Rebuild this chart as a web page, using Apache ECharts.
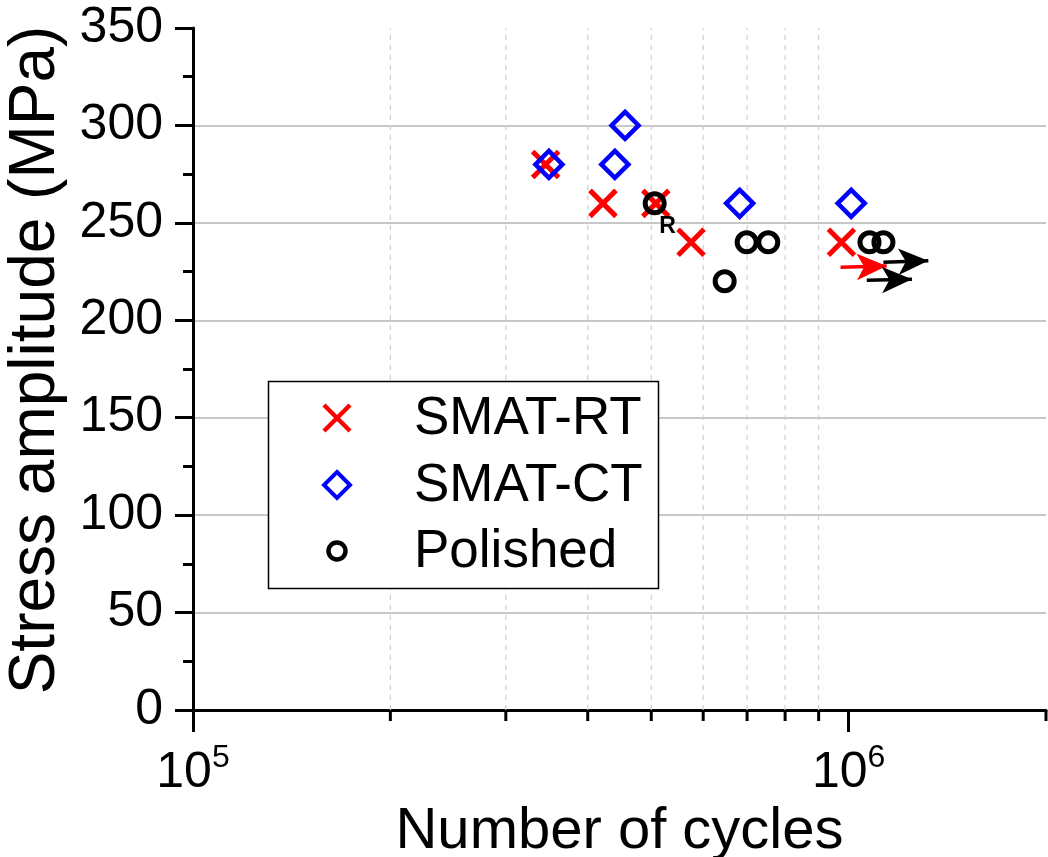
<!DOCTYPE html>
<html>
<head>
<meta charset="utf-8">
<script src="https://cdn.jsdelivr.net/npm/echarts@6/dist/echarts.min.js"></script>
<style>html,body{margin:0;padding:0;background:#fff;}#c{width:1048px;height:857px;}</style>
</head>
<body>
<div id="c"></div>
<script>
// ---- data ----
const seriesNames = ['SMAT-RT', 'SMAT-CT', 'Polished'];
const smatRT = [[3.45e5, 280], [4.22e5, 260], [5.08e5, 260], [5.75e5, 240], [9.75e5, 240]];
const smatCT = [[3.49e5, 280], [4.40e5, 280], [4.56e5, 300], [6.82e5, 260], [1.009e6, 260]];
const polished = [[5.06e5, 260], [6.47e5, 220], [6.99e5, 240], [7.54e5, 240], [1.076e6, 240], [1.13e6, 240]];
// run-out arrows [x1, y1, x2, y2]
const rtArrows = [[9.72e5, 227.2, 1.143e6, 227.8]];
const polishedArrows = [[1.130e6, 229.8, 1.323e6, 230.5], [1.066e6, 220.5, 1.249e6, 221.0]];
const minorXTicks = [2e5, 3e5, 4e5, 5e5, 6e5, 7e5, 8e5, 9e5, 2e6];
const yTicks = [0, 50, 100, 150, 200, 250, 300, 350];

const FONT = "'Liberation Sans', Arial, sans-serif";
const chart = echarts.init(document.getElementById('c'), null, {renderer: 'canvas'});

function arrowLines(arr) {
  return arr.map(a => [{coord: [a[0], a[1]]}, {coord: [a[2], a[3]]}]);
}

const GL = 193, GR = 2, GT = 28, GB = 147;

const option = {
  animation: false,
  backgroundColor: '#fff',
  grid: {left: GL, right: GR, top: GT, bottom: GB, containLabel: false, outerBoundsMode: 'none'},
  xAxis: {
    type: 'log', logBase: 10, min: 1e5, max: 2e6,
    axisLine: {show: true, lineStyle: {color: '#000', width: 3}},
    axisTick: {show: true, length: 22, lineStyle: {color: '#000', width: 3}, customValues: [1e5, 1e6]},
    axisLabel: {
      margin: 32, color: '#000', fontFamily: FONT, customValues: [1e5, 1e6],
      formatter: function (v) {
        const e = Math.round(Math.log10(v));
        if (Math.abs(Math.pow(10, e) - v) / v > 1e-6) return '';
        return '{b|10}{s|' + e + '}';
      },
      rich: {
        b: {fontSize: 50, fontFamily: FONT, color: '#000', lineHeight: 56, verticalAlign: 'bottom'},
        s: {fontSize: 32, fontFamily: FONT, color: '#000', lineHeight: 56, verticalAlign: 'top'}
      }
    },
    splitLine: {show: true, showMinLine: false, showMaxLine: false, lineStyle: {color: '#c8c8c8', width: 2}},
    name: 'Number of cycles', nameLocation: 'middle', nameGap: 92,
    nameTextStyle: {fontSize: 58, fontFamily: FONT, color: '#000'}
  },
  yAxis: {
    type: 'value', min: 0, max: 350, interval: 50,
    axisLine: {show: true, lineStyle: {color: '#000', width: 3}},
    axisTick: {show: true, length: 18, lineStyle: {color: '#000', width: 3}},
    minorTick: {show: true, splitNumber: 2, length: 10, lineStyle: {color: '#000', width: 3}},
    axisLabel: {margin: 30, fontSize: 50, fontFamily: FONT, color: '#000'},
    splitLine: {show: true, showMinLine: false, showMaxLine: false, lineStyle: {color: '#c8c8c8', width: 2}},
    name: 'Stress amplitude (MPa)', nameLocation: 'middle', nameGap: 124,
    nameTextStyle: {fontSize: 64, fontFamily: FONT, color: '#000', padding: [0, 0, 0, 18]}
  },
  series: [
    {
      type: 'custom', name: 'minor', silent: true, clip: false, z: 1,
      data: minorXTicks.map(v => [v, 0]),
      encode: {x: 0, y: 1},
      renderItem: function (params, api) {
        const v = api.value(0);
        const p0 = api.coord([v, 0]);
        const p1 = api.coord([v, 350]);
        const children = [{
          type: 'line', shape: {x1: p0[0], y1: p0[1], x2: p0[0], y2: p0[1] + 11},
          style: {stroke: '#000', lineWidth: 3}
        }];
        if (v < 1e6) {
          children.push({
            type: 'line', shape: {x1: p0[0], y1: p0[1], x2: p1[0], y2: p1[1]},
            style: {stroke: '#d0d0d0', lineWidth: 1.2, lineDash: [5, 5]}
          });
        }
        return {type: 'group', children: children};
      }
    },
    {
      type: 'scatter', name: seriesNames[0], z: 3,
      data: smatRT,
      symbol: 'path://M0,0L10,10M10,0L0,10', symbolSize: 26,
      itemStyle: {color: 'rgba(0,0,0,0)', borderColor: '#ff0000', borderWidth: 5, opacity: 1},
      emphasis: {disabled: true},
      markLine: {
        silent: true, symbol: ['none', 'arrow'], symbolSize: [20, 30],
        label: {show: false},
        lineStyle: {color: '#ff0000', width: 3.5, type: 'solid', opacity: 1},
        data: arrowLines(rtArrows)
      }
    },
    {
      type: 'scatter', name: seriesNames[1], z: 4,
      data: smatCT,
      symbol: 'diamond', symbolSize: 27,
      itemStyle: {color: 'rgba(0,0,0,0)', borderColor: '#0000ff', borderWidth: 4.5, opacity: 1},
      emphasis: {disabled: true}
    },
    {
      type: 'scatter', name: seriesNames[2], z: 5,
      data: polished.map((p, i) => i === 0 ? {
        value: p,
        label: {show: true, formatter: 'R', position: 'inside', offset: [13, 23],
          fontSize: 23, fontWeight: 'bold', fontFamily: FONT, color: '#000'}
      } : p),
      symbol: 'circle', symbolSize: 19,
      itemStyle: {color: 'rgba(0,0,0,0)', borderColor: '#000', borderWidth: 5, opacity: 1},
      emphasis: {disabled: true},
      markLine: {
        silent: true, symbol: ['none', 'arrow'], symbolSize: [20, 30],
        label: {show: false},
        lineStyle: {color: '#000', width: 3.5, type: 'solid', opacity: 1},
        data: arrowLines(polishedArrows)
      }
    }
  ],
  graphic: [
    {type: 'rect', z: 50, shape: {x: 268.5, y: 381.5, width: 390, height: 207},
      style: {fill: '#fff', stroke: '#000', lineWidth: 1.5}},
    {type: 'line', z: 51, shape: {x1: 324, y1: 405, x2: 350, y2: 431},
      style: {stroke: '#ff0000', lineWidth: 4.5}},
    {type: 'line', z: 51, shape: {x1: 350, y1: 405, x2: 324, y2: 431},
      style: {stroke: '#ff0000', lineWidth: 4.5}},
    {type: 'polygon', z: 51, shape: {points: [[337, 472], [350, 485], [337, 498], [324, 485]]},
      style: {fill: 'none', stroke: '#0000ff', lineWidth: 4}},
    {type: 'circle', z: 51, shape: {cx: 337, cy: 551, r: 8.5},
      style: {fill: 'none', stroke: '#000', lineWidth: 4.5}},
    {type: 'text', z: 51, x: 414, y: 419, style: {text: seriesNames[0], font: '53px ' + FONT, fill: '#000', verticalAlign: 'middle'}},
    {type: 'text', z: 51, x: 414, y: 486, style: {text: seriesNames[1], font: '53px ' + FONT, fill: '#000', verticalAlign: 'middle'}},
    {type: 'text', z: 51, x: 414, y: 552, style: {text: seriesNames[2], font: '53px ' + FONT, fill: '#000', verticalAlign: 'middle'}}
  ]
};
chart.setOption(option);
</script>
</body>
</html>
